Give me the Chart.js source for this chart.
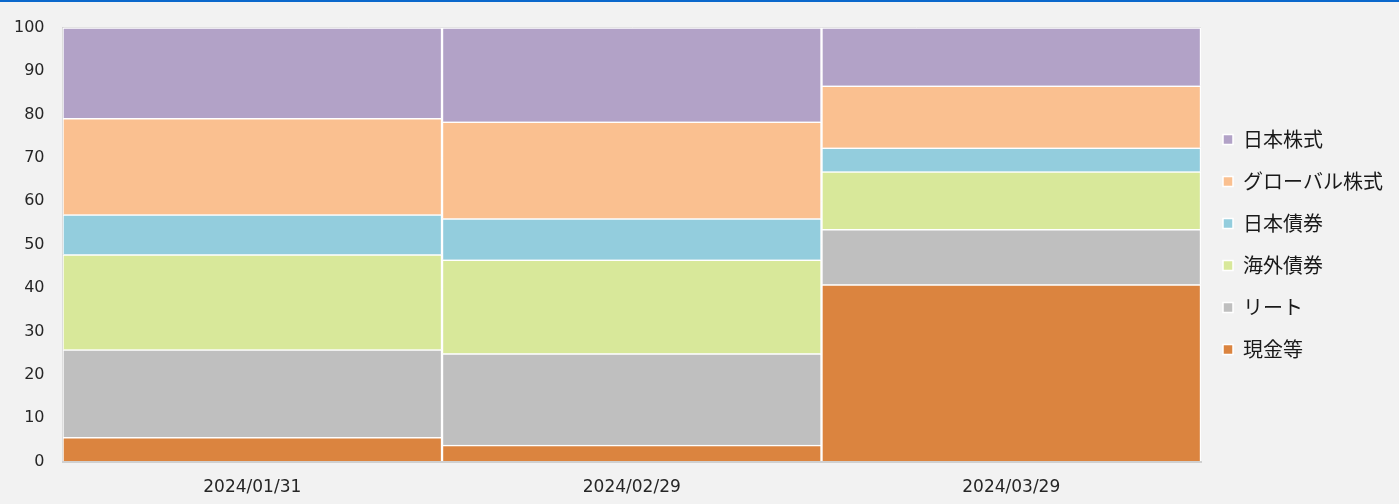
<!DOCTYPE html>
<html>
<head>
<meta charset="utf-8">
<script src="https://cdn.jsdelivr.net/npm/chart.js@4/dist/chart.umd.min.js"></script>
<style>
  html, body { margin: 0; padding: 0; background: #f2f2f2; }
  #wrap { position: relative; width: 1399px; height: 504px; }
</style>
</head>
<body>
<div id="wrap"><canvas id="allocChart"></canvas></div>
<script>
// ---- data ----
const DATES = ['2024/01/31', '2024/02/29', '2024/03/29'];

const CASH        = [5.6, 3.8, 40.8];   // 現金等
const REIT        = [20.2, 21.1, 12.7]; // リート
const INTL_BOND   = [21.9, 21.6, 13.3]; // 海外債券
const JP_BOND     = [9.2, 9.5, 5.5];    // 日本債券
const GLOBAL_EQ   = [22.2, 22.3, 14.3]; // グローバル株式
const JP_EQ       = [20.9, 21.7, 13.4]; // 日本株式

const Y_TICKS = { min: 0, max: 100, step: 10 };

const SERIES = [
  { label: '現金等',         data: CASH,      color: '#db843f' },
  { label: 'リート',         data: REIT,      color: '#bfbfbf' },
  { label: '海外債券',       data: INTL_BOND, color: '#d8e89a' },
  { label: '日本債券',       data: JP_BOND,   color: '#93cddd' },
  { label: 'グローバル株式', data: GLOBAL_EQ, color: '#fac090' },
  { label: '日本株式',       data: JP_EQ,     color: '#b2a2c7' },
];

// page background + thin blue rule at the top
const bgPlugin = {
  id: 'bg',
  beforeDraw(chart) {
    const { ctx, width } = chart;
    ctx.save();
    ctx.fillStyle = '#f2f2f2';
    ctx.fillRect(0, 0, width, chart.height);
    ctx.fillStyle = '#0b68cc';
    ctx.fillRect(0, 0, width, 2);
    ctx.restore();
  },
};

const TICK_FONT = "'DejaVu Sans', Verdana, sans-serif";

new Chart(document.getElementById('allocChart'), {
  type: 'bar',
  data: {
    labels: DATES,
    datasets: SERIES.map(s => ({
      label: s.label,
      data: s.data,
      backgroundColor: s.color,
      borderColor: '#ffffff',
      borderWidth: 1.5,
      barPercentage: 1,
      categoryPercentage: 1,
    })),
  },
  plugins: [bgPlugin],
  options: {
    responsive: true,
    maintainAspectRatio: false,
    animation: false,
    layout: { padding: { top: 27, left: -4, right: 6, bottom: -10 } },
    plugins: {
      tooltip: { enabled: false },
      legend: {
        position: 'right',
        fullSize: false,
        reverse: true,
        labels: {
          boxWidth: 10,
          boxHeight: 10,
          padding: 22,
          color: '#1a1a1a',
          font: { family: "'Noto Sans CJK JP', sans-serif", size: 20 },
        },
      },
    },
    scales: {
      x: {
        stacked: true,
        grid: { display: false, drawTicks: false },
        border: { display: true, color: '#d0d0d0', width: 2 },
        ticks: { color: '#262626', font: { family: TICK_FONT, size: 17 }, padding: 16 },
      },
      y: {
        stacked: true,
        min: Y_TICKS.min,
        max: Y_TICKS.max,
        grid: { color: '#d9d9d9', drawTicks: false },
        border: { display: true, color: '#d0d0d0', width: 2 },
        ticks: { stepSize: Y_TICKS.step, color: '#262626', font: { family: TICK_FONT, size: 16 }, padding: 18 },
      },
    },
  },
});
</script>
</body>
</html>
